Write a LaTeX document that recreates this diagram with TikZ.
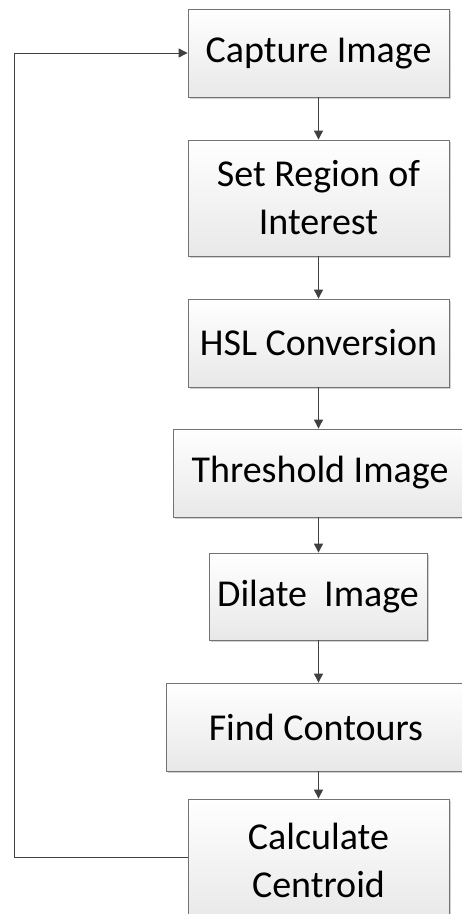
\documentclass[tikz,border=0pt]{standalone}
\usepackage{fontspec}
\setmainfont{Carlito}
\usetikzlibrary{arrows.meta, positioning, shadows}

\begin{document}
\begin{tikzpicture}[
    x=1pt, y=1pt,
    >={Triangle[width=9pt, length=9pt]}, % Set default arrow tip style
    stepbox/.style={draw=black!55, line width=0.8pt, top color=white, bottom color=black!9,
        drop shadow={shadow xshift=1.5pt, shadow yshift=-1.5pt, fill=black!30, opacity=0.6},
        inner sep=0pt, align=center, font=\fontsize{38}{48}\selectfont}, % Style for process boxes
    flow/.style={->, draw=black!75, line width=0.9pt} % Style for connectors
]

    % Page frame
    \useasboundingbox (0,0) rectangle (462,-914);

    % Process boxes
    \node[stepbox, minimum width=261, minimum height=88] (cap) at (318.5,-53) {Capture Image};
    \node[stepbox, minimum width=261, minimum height=116] (roi) at (318.5,-198) {Set Region of\\Interest};
    \node[stepbox, minimum width=261, minimum height=88] (hsl) at (318.5,-343) {HSL Conversion};
    \node[stepbox, minimum width=294, minimum height=88] (thr) at (320,-473) {Threshold Image};
    \node[stepbox, minimum width=218, minimum height=87] (dil) at (318,-596.5) {Dilate~~Image};
    \node[stepbox, minimum width=300, minimum height=88] (fc) at (316,-727) {Find Contours};
    \node[stepbox, minimum width=261, minimum height=122] (cal) at (318.5,-860) {Calculate\\Centroid};

    % Connectors down the column
    \foreach \a/\b in {cap/roi, roi/hsl, hsl/thr, thr/dil, dil/fc, fc/cal}
        \draw[flow] (\a.south -| cap) -- (\b.north -| cap);

    % Feedback loop
    \coordinate (lb) at (14,-857);
    \draw[flow] (cal.west |- lb) -- (lb) |- (cap.west);

\end{tikzpicture}
\end{document}
